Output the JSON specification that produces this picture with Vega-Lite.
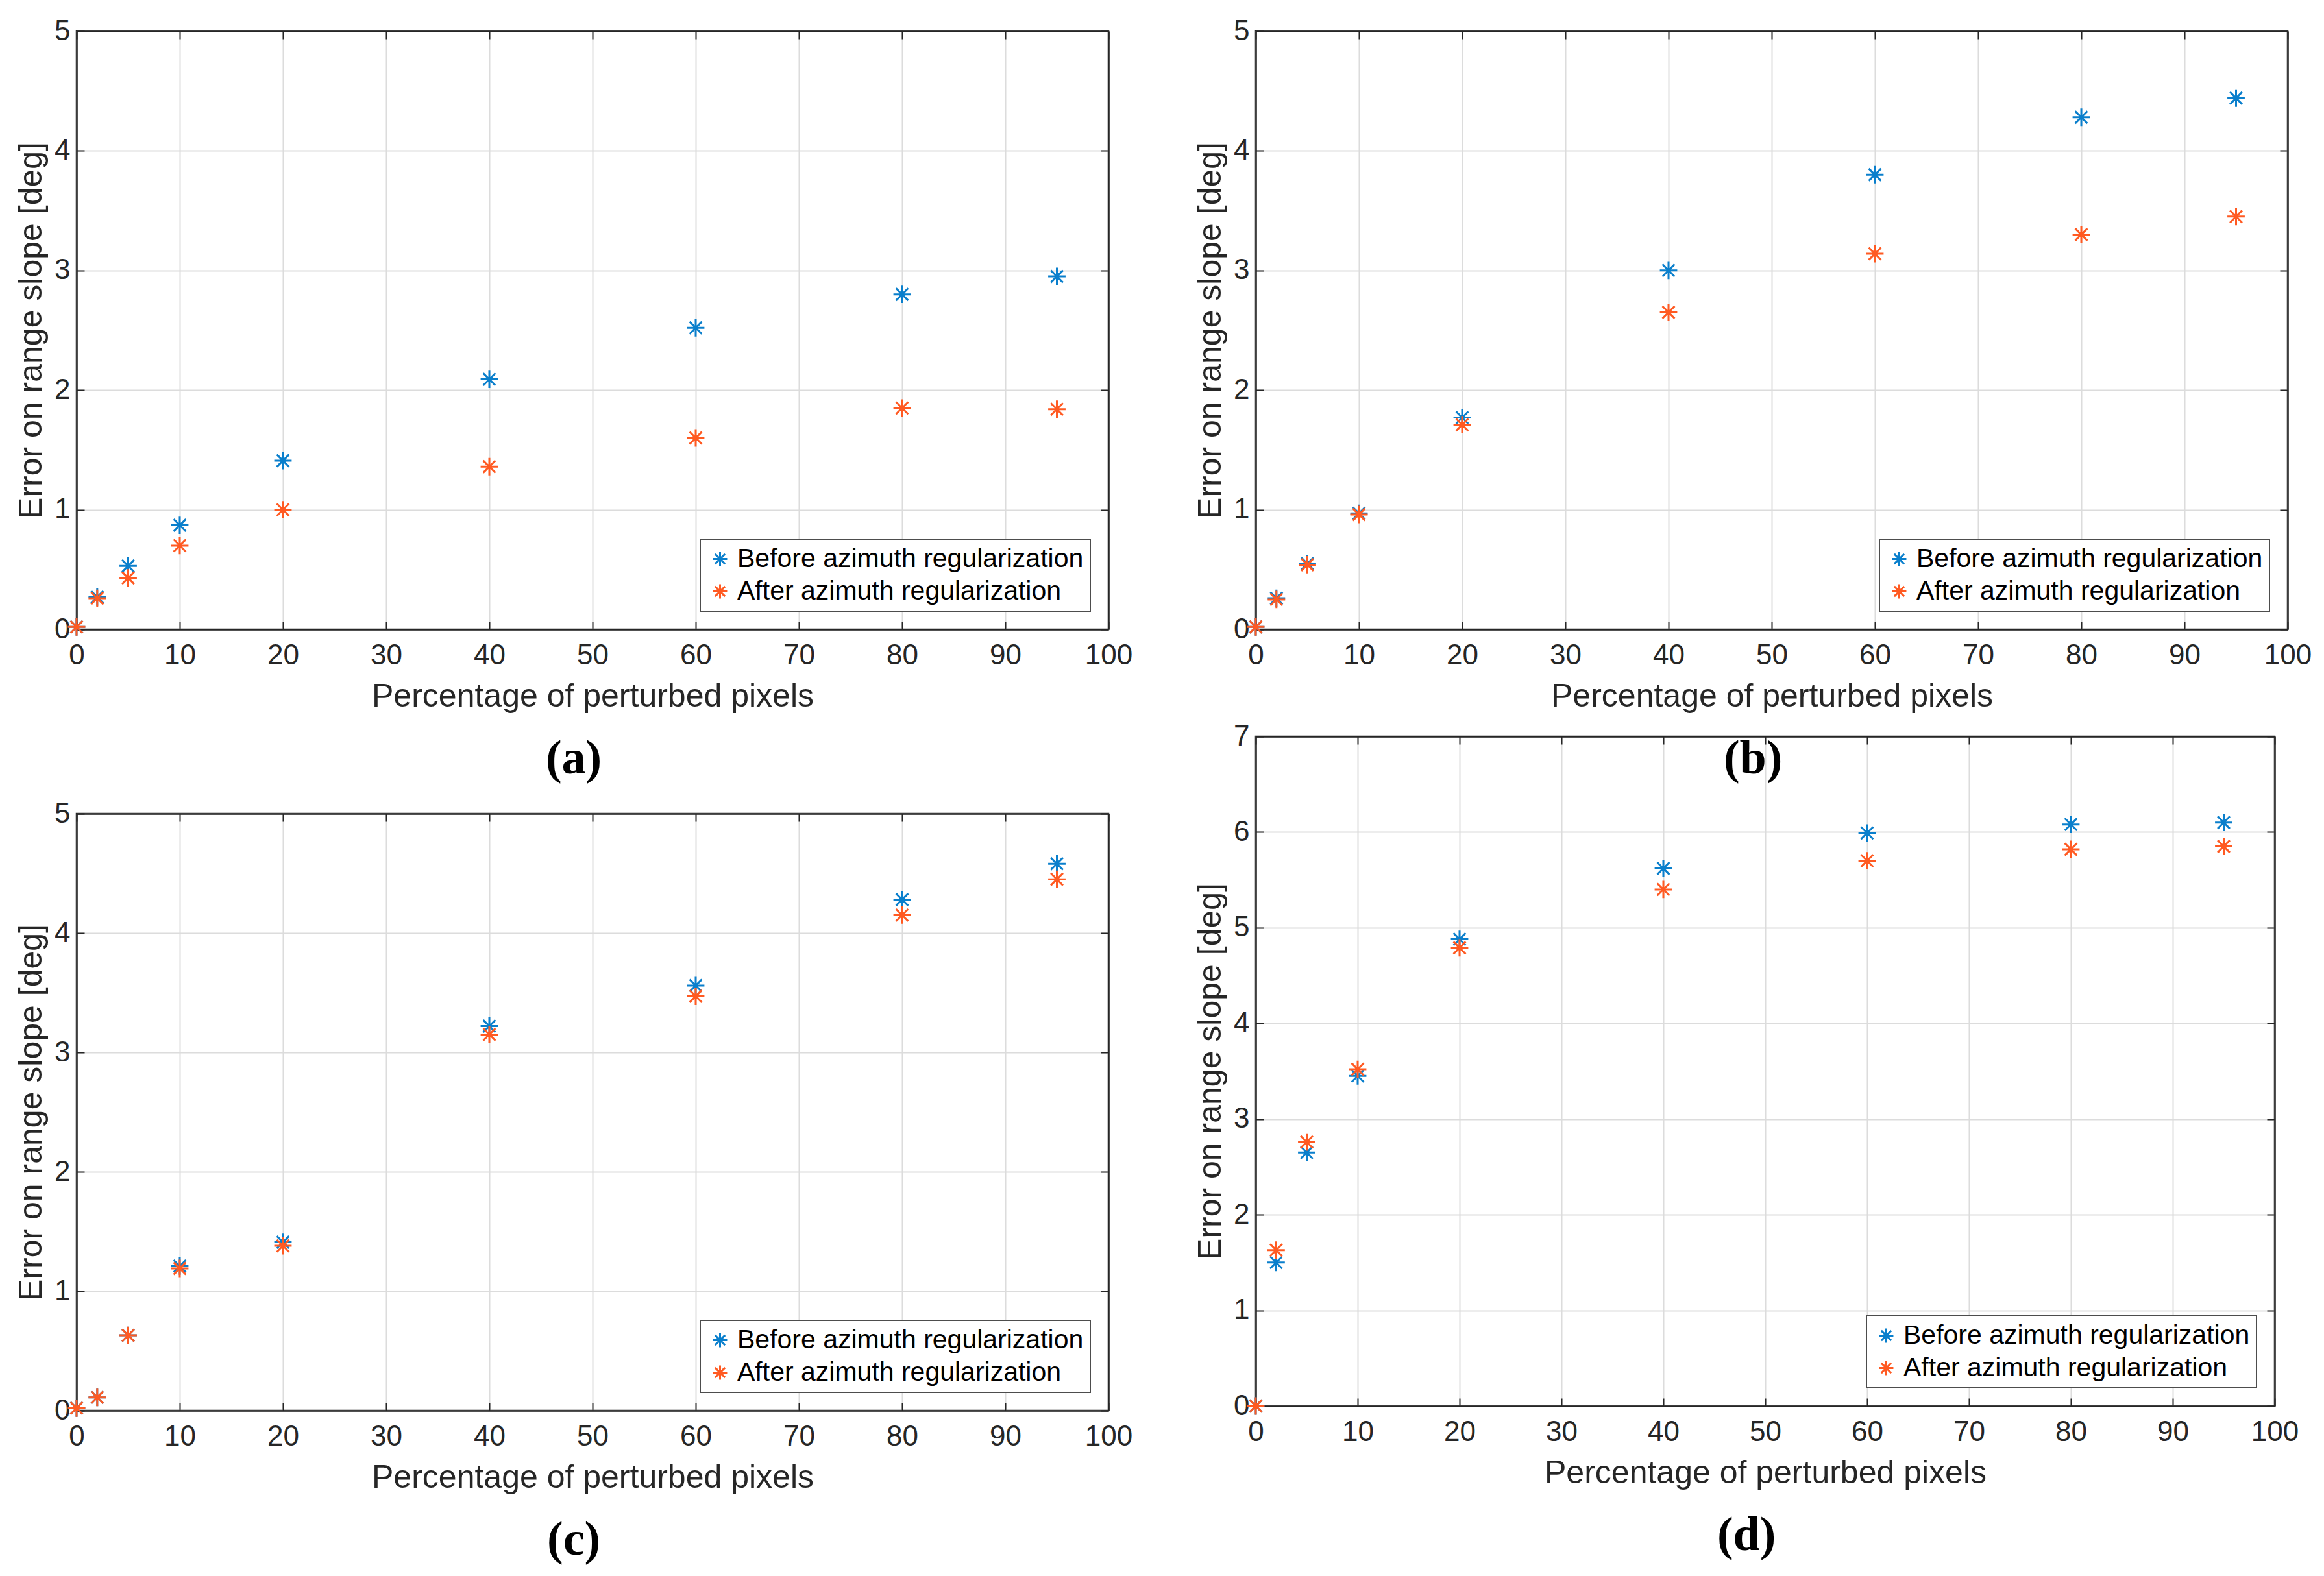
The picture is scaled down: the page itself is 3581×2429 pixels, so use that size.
{
  "$schema": "https://vega.github.io/schema/vega-lite/v6.json",
  "background": "white",
  "padding": {"left": 22, "top": 24, "right": 10, "bottom": 10},
  "datasets": {
    "a": [
      {"pct": 0, "err": 0.02, "series": "Before azimuth regularization"},
      {"pct": 2, "err": 0.27, "series": "Before azimuth regularization"},
      {"pct": 5, "err": 0.53, "series": "Before azimuth regularization"},
      {"pct": 10, "err": 0.87, "series": "Before azimuth regularization"},
      {"pct": 20, "err": 1.41, "series": "Before azimuth regularization"},
      {"pct": 40, "err": 2.09, "series": "Before azimuth regularization"},
      {"pct": 60, "err": 2.52, "series": "Before azimuth regularization"},
      {"pct": 80, "err": 2.8, "series": "Before azimuth regularization"},
      {"pct": 95, "err": 2.95, "series": "Before azimuth regularization"},
      {"pct": 0, "err": 0.02, "series": "After azimuth regularization"},
      {"pct": 2, "err": 0.26, "series": "After azimuth regularization"},
      {"pct": 5, "err": 0.43, "series": "After azimuth regularization"},
      {"pct": 10, "err": 0.7, "series": "After azimuth regularization"},
      {"pct": 20, "err": 1.0, "series": "After azimuth regularization"},
      {"pct": 40, "err": 1.36, "series": "After azimuth regularization"},
      {"pct": 60, "err": 1.6, "series": "After azimuth regularization"},
      {"pct": 80, "err": 1.85, "series": "After azimuth regularization"},
      {"pct": 95, "err": 1.84, "series": "After azimuth regularization"}
    ],
    "b": [
      {"pct": 0, "err": 0.02, "series": "Before azimuth regularization"},
      {"pct": 2, "err": 0.26, "series": "Before azimuth regularization"},
      {"pct": 5, "err": 0.55, "series": "Before azimuth regularization"},
      {"pct": 10, "err": 0.97, "series": "Before azimuth regularization"},
      {"pct": 20, "err": 1.77, "series": "Before azimuth regularization"},
      {"pct": 40, "err": 3.0, "series": "Before azimuth regularization"},
      {"pct": 60, "err": 3.8, "series": "Before azimuth regularization"},
      {"pct": 80, "err": 4.28, "series": "Before azimuth regularization"},
      {"pct": 95, "err": 4.44, "series": "Before azimuth regularization"},
      {"pct": 0, "err": 0.02, "series": "After azimuth regularization"},
      {"pct": 2, "err": 0.25, "series": "After azimuth regularization"},
      {"pct": 5, "err": 0.54, "series": "After azimuth regularization"},
      {"pct": 10, "err": 0.96, "series": "After azimuth regularization"},
      {"pct": 20, "err": 1.71, "series": "After azimuth regularization"},
      {"pct": 40, "err": 2.65, "series": "After azimuth regularization"},
      {"pct": 60, "err": 3.14, "series": "After azimuth regularization"},
      {"pct": 80, "err": 3.3, "series": "After azimuth regularization"},
      {"pct": 95, "err": 3.45, "series": "After azimuth regularization"}
    ],
    "c": [
      {"pct": 0, "err": 0.02, "series": "Before azimuth regularization"},
      {"pct": 2, "err": 0.11, "series": "Before azimuth regularization"},
      {"pct": 5, "err": 0.63, "series": "Before azimuth regularization"},
      {"pct": 10, "err": 1.21, "series": "Before azimuth regularization"},
      {"pct": 20, "err": 1.41, "series": "Before azimuth regularization"},
      {"pct": 40, "err": 3.22, "series": "Before azimuth regularization"},
      {"pct": 60, "err": 3.56, "series": "Before azimuth regularization"},
      {"pct": 80, "err": 4.28, "series": "Before azimuth regularization"},
      {"pct": 95, "err": 4.58, "series": "Before azimuth regularization"},
      {"pct": 0, "err": 0.02, "series": "After azimuth regularization"},
      {"pct": 2, "err": 0.11, "series": "After azimuth regularization"},
      {"pct": 5, "err": 0.63, "series": "After azimuth regularization"},
      {"pct": 10, "err": 1.19, "series": "After azimuth regularization"},
      {"pct": 20, "err": 1.38, "series": "After azimuth regularization"},
      {"pct": 40, "err": 3.15, "series": "After azimuth regularization"},
      {"pct": 60, "err": 3.47, "series": "After azimuth regularization"},
      {"pct": 80, "err": 4.15, "series": "After azimuth regularization"},
      {"pct": 95, "err": 4.45, "series": "After azimuth regularization"}
    ],
    "d": [
      {"pct": 0, "err": 0.0, "series": "Before azimuth regularization"},
      {"pct": 2, "err": 1.5, "series": "Before azimuth regularization"},
      {"pct": 5, "err": 2.65, "series": "Before azimuth regularization"},
      {"pct": 10, "err": 3.45, "series": "Before azimuth regularization"},
      {"pct": 20, "err": 4.88, "series": "Before azimuth regularization"},
      {"pct": 40, "err": 5.62, "series": "Before azimuth regularization"},
      {"pct": 60, "err": 5.99, "series": "Before azimuth regularization"},
      {"pct": 80, "err": 6.08, "series": "Before azimuth regularization"},
      {"pct": 95, "err": 6.1, "series": "Before azimuth regularization"},
      {"pct": 0, "err": 0.0, "series": "After azimuth regularization"},
      {"pct": 2, "err": 1.63, "series": "After azimuth regularization"},
      {"pct": 5, "err": 2.76, "series": "After azimuth regularization"},
      {"pct": 10, "err": 3.52, "series": "After azimuth regularization"},
      {"pct": 20, "err": 4.79, "series": "After azimuth regularization"},
      {"pct": 40, "err": 5.4, "series": "After azimuth regularization"},
      {"pct": 60, "err": 5.7, "series": "After azimuth regularization"},
      {"pct": 80, "err": 5.82, "series": "After azimuth regularization"},
      {"pct": 95, "err": 5.85, "series": "After azimuth regularization"}
    ]
  },
  "hconcat": [
    {
      "vconcat": [
        {
          "data": {"name": "a"},
          "width": 1590,
          "height": 922,
          "title": {"text": "(a)"},
          "layer": [
            {
              "mark": {"type": "point", "shape": "M-1,0L1,0M0,-1L0,1M-0.7,-0.7L0.7,0.7M-0.7,0.7L0.7,-0.7", "filled": false, "size": 720, "strokeWidth": 3, "opacity": 1},
              "encoding": {
                "x": {"field": "pct", "type": "quantitative", "scale": {"domain": [0, 100]}, "axis": {"values": [0, 10, 20, 30, 40, 50, 60, 70, 80, 90, 100], "title": "Percentage of perturbed pixels"}},
                "y": {"field": "err", "type": "quantitative", "scale": {"domain": [0, 5]}, "axis": {"values": [0, 1, 2, 3, 4, 5], "title": "Error on range slope [deg]"}},
                "color": {"field": "series", "type": "nominal", "scale": {"domain": ["Before azimuth regularization", "After azimuth regularization"], "range": ["#0A7FCC", "#FF5A22"]}}
              }
            },
            {
              "transform": [{"filter": "false"}],
              "mark": {"type": "point"},
              "encoding": {
                "x": {"field": "pct", "type": "quantitative", "axis": {"orient": "top", "values": [0, 10, 20, 30, 40, 50, 60, 70, 80, 90, 100], "labels": false, "grid": false, "title": null}},
                "y": {"field": "err", "type": "quantitative", "axis": {"orient": "right", "values": [0, 1, 2, 3, 4, 5], "labels": false, "grid": false, "title": null}}
              }
            }
          ],
          "resolve": {"axis": {"x": "independent", "y": "independent"}}
        },
        {
          "data": {"name": "c"},
          "width": 1590,
          "height": 920,
          "title": {"text": "(c)"},
          "layer": [
            {
              "mark": {"type": "point", "shape": "M-1,0L1,0M0,-1L0,1M-0.7,-0.7L0.7,0.7M-0.7,0.7L0.7,-0.7", "filled": false, "size": 720, "strokeWidth": 3, "opacity": 1},
              "encoding": {
                "x": {"field": "pct", "type": "quantitative", "scale": {"domain": [0, 100]}, "axis": {"values": [0, 10, 20, 30, 40, 50, 60, 70, 80, 90, 100], "title": "Percentage of perturbed pixels"}},
                "y": {"field": "err", "type": "quantitative", "scale": {"domain": [0, 5]}, "axis": {"values": [0, 1, 2, 3, 4, 5], "title": "Error on range slope [deg]"}},
                "color": {"field": "series", "type": "nominal", "scale": {"domain": ["Before azimuth regularization", "After azimuth regularization"], "range": ["#0A7FCC", "#FF5A22"]}}
              }
            },
            {
              "transform": [{"filter": "false"}],
              "mark": {"type": "point"},
              "encoding": {
                "x": {"field": "pct", "type": "quantitative", "axis": {"orient": "top", "values": [0, 10, 20, 30, 40, 50, 60, 70, 80, 90, 100], "labels": false, "grid": false, "title": null}},
                "y": {"field": "err", "type": "quantitative", "axis": {"orient": "right", "values": [0, 1, 2, 3, 4, 5], "labels": false, "grid": false, "title": null}}
              }
            }
          ],
          "resolve": {"axis": {"x": "independent", "y": "independent"}}
        }
      ],
      "spacing": 284,
      "bounds": "flush",
      "resolve": {"legend": {"color": "independent"}}
    },
    {
      "vconcat": [
        {
          "data": {"name": "b"},
          "width": 1590,
          "height": 922,
          "title": {"text": "(b)"},
          "layer": [
            {
              "mark": {"type": "point", "shape": "M-1,0L1,0M0,-1L0,1M-0.7,-0.7L0.7,0.7M-0.7,0.7L0.7,-0.7", "filled": false, "size": 720, "strokeWidth": 3, "opacity": 1},
              "encoding": {
                "x": {"field": "pct", "type": "quantitative", "scale": {"domain": [0, 100]}, "axis": {"values": [0, 10, 20, 30, 40, 50, 60, 70, 80, 90, 100], "title": "Percentage of perturbed pixels"}},
                "y": {"field": "err", "type": "quantitative", "scale": {"domain": [0, 5]}, "axis": {"values": [0, 1, 2, 3, 4, 5], "title": "Error on range slope [deg]"}},
                "color": {"field": "series", "type": "nominal", "scale": {"domain": ["Before azimuth regularization", "After azimuth regularization"], "range": ["#0A7FCC", "#FF5A22"]}}
              }
            },
            {
              "transform": [{"filter": "false"}],
              "mark": {"type": "point"},
              "encoding": {
                "x": {"field": "pct", "type": "quantitative", "axis": {"orient": "top", "values": [0, 10, 20, 30, 40, 50, 60, 70, 80, 90, 100], "labels": false, "grid": false, "title": null}},
                "y": {"field": "err", "type": "quantitative", "axis": {"orient": "right", "values": [0, 1, 2, 3, 4, 5], "labels": false, "grid": false, "title": null}}
              }
            }
          ],
          "resolve": {"axis": {"x": "independent", "y": "independent"}}
        },
        {
          "data": {"name": "d"},
          "width": 1570,
          "height": 1032,
          "title": {"text": "(d)"},
          "layer": [
            {
              "mark": {"type": "point", "shape": "M-1,0L1,0M0,-1L0,1M-0.7,-0.7L0.7,0.7M-0.7,0.7L0.7,-0.7", "filled": false, "size": 720, "strokeWidth": 3, "opacity": 1},
              "encoding": {
                "x": {"field": "pct", "type": "quantitative", "scale": {"domain": [0, 100]}, "axis": {"values": [0, 10, 20, 30, 40, 50, 60, 70, 80, 90, 100], "title": "Percentage of perturbed pixels"}},
                "y": {"field": "err", "type": "quantitative", "scale": {"domain": [0, 7]}, "axis": {"values": [0, 1, 2, 3, 4, 5, 6, 7], "title": "Error on range slope [deg]"}},
                "color": {"field": "series", "type": "nominal", "scale": {"domain": ["Before azimuth regularization", "After azimuth regularization"], "range": ["#0A7FCC", "#FF5A22"]}}
              }
            },
            {
              "transform": [{"filter": "false"}],
              "mark": {"type": "point"},
              "encoding": {
                "x": {"field": "pct", "type": "quantitative", "axis": {"orient": "top", "values": [0, 10, 20, 30, 40, 50, 60, 70, 80, 90, 100], "labels": false, "grid": false, "title": null}},
                "y": {"field": "err", "type": "quantitative", "axis": {"orient": "right", "values": [0, 1, 2, 3, 4, 5, 6, 7], "labels": false, "grid": false, "title": null}}
              }
            }
          ],
          "resolve": {"axis": {"x": "independent", "y": "independent"}}
        }
      ],
      "spacing": 165,
      "bounds": "flush",
      "resolve": {"legend": {"color": "independent"}}
    }
  ],
  "spacing": 93,
  "resolve": {"legend": {"color": "independent"}, "scale": {"x": "independent", "y": "independent"}},
  "config": {
    "font": "Liberation Sans",
    "view": {"stroke": "#262626", "strokeWidth": 2.5},
    "axis": {
      "labelFont": "Liberation Sans",
      "labelFontSize": 44,
      "labelColor": "#262626",
      "titleFont": "Liberation Sans",
      "titleFontSize": 50,
      "titleFontWeight": "normal",
      "titleColor": "#262626",
      "domainColor": "#262626",
      "domainWidth": 2.5,
      "tickColor": "#262626",
      "tickWidth": 2,
      "tickSize": -12,
      "gridColor": "#dcdcdc",
      "gridWidth": 2,
      "labelFlush": false,
      "labelOverlap": false
    },
    "axisX": {"labelPadding": 30, "titlePadding": 16},
    "axisY": {"labelPadding": 22, "titlePadding": 10},
    "legend": {
      "orient": "bottom-right",
      "offset": 28,
      "title": null,
      "fillColor": "white",
      "strokeColor": "#4d4d4d",
      "strokeWidth": 2,
      "padding": 10,
      "labelFont": "Liberation Sans",
      "labelFontSize": 41,
      "labelColor": "black",
      "labelLimit": 0,
      "labelOffset": 6,
      "rowPadding": 8,
      "symbolSize": 480,
      "symbolStrokeWidth": 3,
      "symbolType": "M-1,0L1,0M0,-1L0,1M-0.7,-0.7L0.7,0.7M-0.7,0.7L0.7,-0.7"
    },
    "title": {
      "orient": "bottom",
      "frame": "bounds",
      "font": "Liberation Serif",
      "fontSize": 74,
      "fontWeight": "bold",
      "color": "black",
      "offset": 36,
      "anchor": "middle"
    }
  }
}
